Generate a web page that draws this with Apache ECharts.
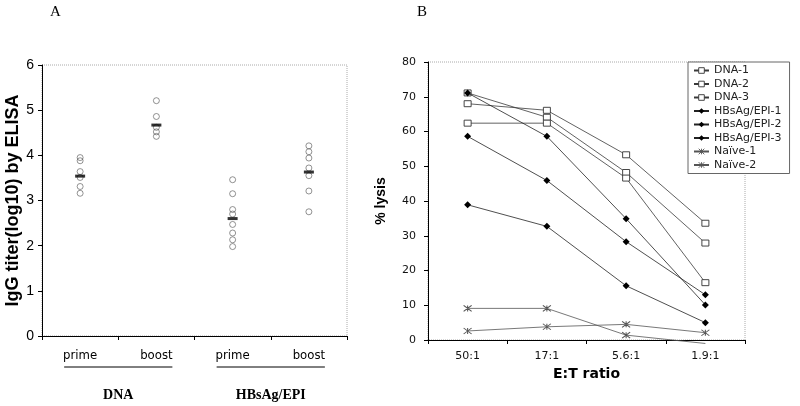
<!DOCTYPE html>
<html>
<head>
<meta charset="utf-8">
<script src="https://cdn.jsdelivr.net/npm/echarts@6/dist/echarts.min.js"></script>
<style>html,body{margin:0;padding:0;background:#fff}#c{width:800px;height:406px}</style>
</head>
<body>
<div id="c"></div>
<script>
// ---- Panel A data ----
const catsA = ['prime', 'boost', 'prime', 'boost'];
const groupsA = ['DNA', 'HBsAg/EPI'];
const dnaPrime = [3.95, 3.88, 3.64, 3.51, 3.31, 3.16];
const dnaBoost = [5.21, 4.86, 4.62, 4.52, 4.42];
const hbsPrime = [3.46, 3.15, 2.80, 2.70, 2.47, 2.28, 2.13, 1.98];
const hbsBoost = [4.21, 4.08, 3.94, 3.72, 3.55, 3.21, 2.75];
const meansA = [3.54, 4.67, 2.60, 3.63];
const ticksA = [0, 1, 2, 3, 4, 5, 6];

// ---- Panel B data ----
const ratiosB = ['50:1', '17:1', '5.6:1', '1.9:1'];
const dna1 = [68.0, 66.1, 53.3, 33.6];
const dna2 = [71.1, 64.1, 48.2, 27.9];
const dna3 = [62.4, 62.4, 46.6, 16.5];
const hbs1 = [71.1, 58.6, 34.9, 10.1];
const hbs2 = [58.6, 45.9, 28.3, 13.0];
const hbs3 = [38.9, 32.7, 15.6, 5.0];
const naive1 = [9.1, 9.1, 1.4, -1.0];
const naive2 = [2.6, 3.8, 4.5, 2.1];
const legendNames = ['DNA-1', 'DNA-2', 'DNA-3', 'HBsAg/EPI-1', 'HBsAg/EPI-2', 'HBsAg/EPI-3', 'Naïve-1', 'Naïve-2'];

const chart = echarts.init(document.getElementById('c'), null, {renderer: 'canvas'});

const groupsPts = [dnaPrime, dnaBoost, hbsPrime, hbsBoost];
const circleData = [];
groupsPts.forEach((arr, i) => arr.forEach(v => circleData.push([i, v])));
const meanData = meansA.map((v, i) => [i, v]);

const asterisk = 'path://M0,0L8,8M8,0L0,8M4,0L4,8';
const lineCol = '#3a3a3a';
const sqStyle = {color: '#fff', borderColor: '#333', borderWidth: 0.9};
const diaStyle = {color: '#000', borderColor: '#000', borderWidth: 0};
const nvStyle = {color: 'rgba(0,0,0,0)', borderColor: '#555', borderWidth: 0.9};

function sqSeries(name, data) {
  return {
    name, type: 'line', xAxisIndex: 1, yAxisIndex: 1, data,
    symbol: 'rect', symbolSize: [7, 6], color: '#333',
    lineStyle: {color: lineCol, width: 0.8},
    itemStyle: sqStyle, z: 3
  };
}
function diaSeries(name, data) {
  return {
    name, type: 'line', xAxisIndex: 1, yAxisIndex: 1, data,
    symbol: 'diamond', symbolSize: 7, color: '#000',
    lineStyle: {color: '#222', width: 0.8},
    itemStyle: diaStyle, z: 4
  };
}
function nvSeries(name, data) {
  return {
    name, type: 'line', xAxisIndex: 1, yAxisIndex: 1, clip: false,
    data: data.map(v => v < 0 ? {value: v, symbol: 'none'} : v),
    symbol: asterisk, symbolSize: [8, 6], color: '#555',
    lineStyle: {color: '#555', width: 0.8},
    itemStyle: nvStyle, z: 3
  };
}

const legendData = legendNames.map((n, i) => ({
  name: n,
  itemStyle: i < 3 ? sqStyle : (i < 6 ? diaStyle : nvStyle)
}));

const option = {
  animation: false,
  backgroundColor: '#fff',
  grid: [
    {left: 42, top: 65, width: 305, height: 271, show: true, borderColor: '#aaa', borderWidth: 1, borderType: 'dotted'},
    {left: 428, top: 62, width: 317, height: 278, show: true, borderColor: '#aaa', borderWidth: 1, borderType: 'dotted'}
  ],
  xAxis: [
    {
      type: 'category', gridIndex: 0, data: catsA,
      axisLine: {lineStyle: {color: '#000', width: 1}},
      axisTick: {show: true, length: 4, lineStyle: {color: '#000'}},
      axisLabel: {color: '#000', fontFamily: '"DejaVu Sans Condensed", Arial', fontSize: 13, margin: 13}
    },
    {
      type: 'category', gridIndex: 1, data: ratiosB,
      name: 'E:T ratio', nameLocation: 'middle', nameGap: 24,
      nameTextStyle: {color: '#000', fontFamily: 'DejaVu Sans', fontWeight: 'bold', fontSize: 14},
      axisLine: {lineStyle: {color: '#000', width: 1}},
      axisTick: {show: true, length: 4, lineStyle: {color: '#000'}},
      axisLabel: {color: '#111', fontFamily: 'DejaVu Sans', fontSize: 11, margin: 11}
    }
  ],
  yAxis: [
    {
      type: 'value', gridIndex: 0, min: ticksA[0], max: ticksA[ticksA.length - 1], interval: 1,
      name: 'IgG titer(log10) by ELISA', nameLocation: 'middle', nameGap: 17,
      nameTextStyle: {color: '#000', fontFamily: 'Arial, Liberation Sans', fontWeight: 'bold', fontSize: 18},
      axisLine: {show: true, lineStyle: {color: '#000', width: 1}},
      axisTick: {show: true, length: 4, lineStyle: {color: '#000'}},
      axisLabel: {color: '#000', fontFamily: 'Arial, Liberation Sans', fontSize: 14, margin: 8},
      splitLine: {show: false}
    },
    {
      type: 'value', gridIndex: 1, min: 0, max: 80, interval: 10,
      name: '% lysis', nameLocation: 'middle', nameGap: 40,
      nameTextStyle: {color: '#000', fontFamily: 'Arial, Liberation Sans', fontWeight: 'bold', fontSize: 14},
      axisLine: {show: true, lineStyle: {color: '#000', width: 1}},
      axisTick: {show: true, length: 4, lineStyle: {color: '#000'}},
      axisLabel: {color: '#111', fontFamily: 'DejaVu Sans', fontSize: 11, margin: 12},
      splitLine: {show: false}
    }
  ],
  legend: {
    orient: 'vertical', left: 688, top: 62,
    padding: [3, 8, 3, 5], itemGap: 2.5, itemWidth: 15, itemHeight: 7,
    backgroundColor: '#fff', borderColor: '#666', borderWidth: 1,
    textStyle: {color: '#222', fontFamily: 'DejaVu Sans', fontSize: 11, lineHeight: 11},
    data: legendData
  },
  series: [
    {
      type: 'scatter', xAxisIndex: 0, yAxisIndex: 0, data: circleData,
      symbol: 'circle', symbolSize: 6,
      itemStyle: {color: 'rgba(255,255,255,0)', borderColor: '#555', borderWidth: 0.8}
    },
    {
      type: 'scatter', xAxisIndex: 0, yAxisIndex: 0, data: meanData,
      symbol: 'rect', symbolSize: [10, 3],
      itemStyle: {color: '#000'}, z: 5
    },
    sqSeries('DNA-1', dna1),
    sqSeries('DNA-2', dna2),
    sqSeries('DNA-3', dna3),
    diaSeries('HBsAg/EPI-1', hbs1),
    diaSeries('HBsAg/EPI-2', hbs2),
    diaSeries('HBsAg/EPI-3', hbs3),
    nvSeries('Naïve-1', naive1),
    nvSeries('Naïve-2', naive2)
  ]
};
chart.setOption(option);

// Group underlines and labels for panel A, placed from category positions
const p = catsA.map((c, i) => chart.convertToPixel({xAxisIndex: 0, yAxisIndex: 0}, [i, 0]));
const underY = 367, groupY = 395;
const graphics = [
  {type: 'text', left: 50, top: 5, style: {text: 'A', font: '15px "Liberation Serif", "Times New Roman", serif', fill: '#000'}},
  {type: 'text', left: 417, top: 5, style: {text: 'B', font: '15px "Liberation Serif", "Times New Roman", serif', fill: '#000'}}
];
groupsA.forEach((g, k) => {
  const a = p[2 * k][0], b = p[2 * k + 1][0];
  graphics.push({type: 'line', shape: {x1: a - 16, y1: underY, x2: b + 16, y2: underY}, style: {stroke: '#000', lineWidth: 1}});
  graphics.push({type: 'text', x: (a + b) / 2, y: groupY, style: {text: g, font: 'bold 14px "Liberation Serif", "Times New Roman", serif', fill: '#000', textAlign: 'center', textVerticalAlign: 'middle'}});
});
chart.setOption({graphic: graphics});
</script>
</body>
</html>
